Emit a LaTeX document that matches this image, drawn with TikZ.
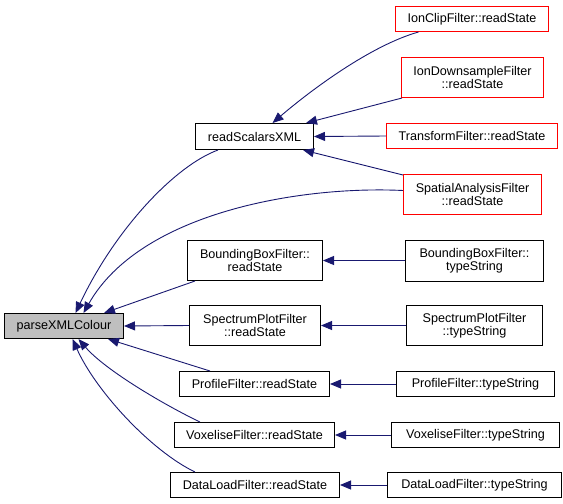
\documentclass[tikz,border=0pt]{standalone}
\usepackage{fontspec}
\setmainfont{Liberation Sans}
\usetikzlibrary{arrows.meta,calc}
\definecolor{edgeblue}{HTML}{191970}
\definecolor{rootgray}{HTML}{BFBFBF}
\definecolor{nodered}{HTML}{FF0000}
\begin{document}
\begin{tikzpicture}[x=1pt,y=-1pt,
  box/.style={draw=black,line width=1pt,fill=white,inner sep=0pt,align=center,
    font=\fontsize{12.6pt}{13.4pt}\selectfont},
  redbox/.style={box,draw=none,outer sep=0pt},
  rootbox/.style={box,fill=rootgray},
  redborder/.style={draw=nodered,line width=1pt},
  edge/.style={draw=edgeblue,line width=0.9pt,-{Triangle[length=11pt,width=9pt]}}]
\useasboundingbox (0,0) rectangle (563,504);
\begin{scope}[shift={(0.5,0.5)}]
% nodes
\node[rootbox,minimum width=119pt,minimum height=25pt] (px) at (63.5,325.5) {parseXMLColour};
\node[box,minimum width=118pt,minimum height=26pt] (rsx) at (254,136) {readScalarsXML};
\node[redbox,minimum width=153pt,minimum height=25pt] (ic) at (471.5,18.5) {IonClipFilter::readState};
\node[redbox,minimum width=142pt,minimum height=40pt] (idsf) at (472,77) {IonDownsampleFilter\\::readState};
\node[redbox,minimum width=171pt,minimum height=25pt] (tr) at (471.5,135.5) {TransformFilter::readState};
\node[redbox,minimum width=138pt,minimum height=40pt] (spa) at (472,194) {SpatialAnalysisFilter\\::readState};
\node[box,minimum width=135pt,minimum height=40pt] (bbr) at (254.5,260) {BoundingBoxFilter::\\readState};
\node[box,minimum width=131pt,minimum height=40pt] (spr) at (254.5,325) {SpectrumPlotFilter\\::readState};
\node[box,minimum width=150pt,minimum height=25pt] (pr) at (254,383.5) {ProfileFilter::readState};
\node[box,minimum width=160pt,minimum height=25pt] (vr) at (254,434.5) {VoxeliseFilter::readState};
\node[box,minimum width=169pt,minimum height=25pt] (dr) at (254.5,484.5) {DataLoadFilter::readState};
\node[box,minimum width=138pt,minimum height=41pt] (bbt) at (474,260) {BoundingBoxFilter::\\typeString};
\node[box,minimum width=136pt,minimum height=40pt] (spt) at (474,325) {SpectrumPlotFilter\\::typeString};
\node[box,minimum width=158pt,minimum height=25pt] (pt) at (475,383.5) {ProfileFilter::typeString};
\node[box,minimum width=168pt,minimum height=25pt] (vt) at (475,434.5) {VoxeliseFilter::typeString};
\node[box,minimum width=174pt,minimum height=25pt] (dt) at (474,484.5) {DataLoadFilter::typeString};
% red node outlines
\draw[redborder] (ic.south west) rectangle (ic.north east);
\draw[redborder] (idsf.south west) rectangle (idsf.north east);
\draw[redborder] (tr.south west) rectangle (tr.north east);
\draw[redborder] (spa.south west) rectangle (spa.north east);
% edges to parseXMLColour
\draw[edge] ($(rsx.south west)+(23,0)$) .. controls (175,165) and (115,228) .. ($(px.north)+(11.5,0)$);
\draw[edge] ($(spa.west)+(-0.5,-4)$) .. controls (300,185) and (140,212) .. ($(px.north)+(19.5,0)$);
\draw[edge] ($(bbr.south west)+(8,0)$) -- ($(px.north east)+(-20,0)$);
\draw[edge] (spr.west) -- (px.east);
\draw[edge] ($(pr.north west)+(31,0)$) -- ($(px.south east)+(-16,0)$);
\draw[edge] ($(vr.north west)+(26,0)$) .. controls (165,405) and (105,370) .. ($(px.south)+(14.5,0)$);
\draw[edge] ($(dr.north west)+(25,0)$) .. controls (150,450) and (95,390) .. ($(px.south)+(8.5,0)$);
% edges to readScalarsXML
\draw[edge] ($(ic.south west)+(23,0.5)$) .. controls (370,45) and (310,90) .. ($(rsx.north)+(18,0)$);
\draw[edge] ($(idsf.south west)+(0.5,0.5)$) -- ($(rsx.north east)+(-8,0)$);
\draw[edge] ($(tr.west)+(-0.5,0)$) -- (rsx.east);
\draw[edge] ($(spa.north west)+(-0.5,0.5)$) -- ($(rsx.south east)+(-11,0)$);
% typeString edges
\draw[edge] (bbt.west) -- (bbr.east);
\draw[edge] (spt.west) -- (spr.east);
\draw[edge] (pt.west) -- (pr.east);
\draw[edge] (vt.west) -- (vr.east);
\draw[edge] (dt.west) -- (dr.east);
\end{scope}
\end{tikzpicture}
\end{document}
